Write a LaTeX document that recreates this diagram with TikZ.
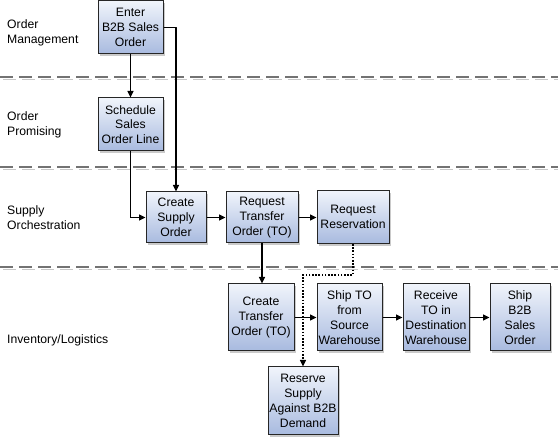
\documentclass[tikz,border=0pt]{standalone}
\usepackage{fontspec}
\setmainfont{Liberation Sans}
\usepackage{xcolor}
\usetikzlibrary{arrows.meta,shadows}
\definecolor{boxtop}{HTML}{F0F4FB}
\definecolor{boxbot}{HTML}{A8BADF}
\tikzset{
	procbox/.style={
			draw=black!85, line width=1pt, top color=boxtop, bottom color=boxbot,
			align=center, inner sep=1pt, minimum height=53pt,
			drop shadow={shadow xshift=2.2pt, shadow yshift=-2.2pt, fill=black!35, opacity=0.6}
		},
	lanelabel/.style={align=left, anchor=west, inner sep=0pt},
	flow/.style={line width=1.1pt, -{Triangle[length=6.5pt,width=6pt]}},
	reserveflow/.style={line width=1.2pt, dash pattern=on 1.6pt off 1.6pt, -{Triangle[length=6.5pt,width=6pt]}},
	lanesep/.style={line width=1.3pt, dash pattern=on 13pt off 6pt}
}
\begin{document}
\begin{tikzpicture}[x=1pt,y=-1pt,font=\fontsize{12.2}{14.8}\selectfont]
		\useasboundingbox (0,0) rectangle (558,438);

		% Lane separators
		\foreach \ly in {77,167,267} {
				\draw[lanesep, black!22] (3,\ly+2.5) -- (561,\ly+2.5);
				\draw[lanesep, black!55] (0,\ly) -- (558,\ly);
			}

		% Lane labels
		\node[lanelabel] (omlabel) at (7,33) {Order\\Management};
		\node[lanelabel] (oplabel) at (7,125) {Order\\Promising};
		\node[lanelabel] (solabel) at (7,218) {Supply\\Orchestration};
		\node[lanelabel] (illabel) at (7,340) {Inventory/Logistics};

		% Steps
		\node[procbox, minimum width=65pt] (enter) at (130.5,27.5) {Enter\\B2B Sales\\Order};
		\node[procbox, minimum width=65pt] (sched) at (130.5,124.5) {Schedule\\Sales\\Order Line};
		\node[procbox, minimum width=60pt, minimum height=51pt] (csupply) at (176,217.5) {Create\\Supply\\Order};
		\node[procbox, minimum width=72pt, minimum height=51pt] (reqto) at (262,217.5) {Request\\Transfer\\Order (TO)};
		\node[procbox, minimum width=72pt] (reqres) at (353,217) {Request\\Reservation};
		\node[procbox, minimum width=66pt, minimum height=67pt] (cto) at (261,317.5) {Create\\Transfer\\Order (TO)};
		\node[procbox, minimum width=65pt, minimum height=67pt] (shipto) at (349.5,317.5) {Ship TO\\from\\Source\\Warehouse};
		\node[procbox, minimum width=66pt, minimum height=67pt] (recv) at (436,317.5) {Receive\\TO in\\Destination\\Warehouse};
		\node[procbox, minimum width=60pt, minimum height=67pt] (shipb2b) at (520,317.5) {Ship\\B2B\\Sales\\Order};
		\node[procbox, minimum width=70pt, minimum height=68pt] (reserve) at (303,401) {Reserve\\Supply\\Against B2B\\Demand};

		% Flow
		\draw[flow] (enter) -- (sched);
		\draw[flow] (enter.east) -- ++(13,0) -| (csupply.north);
		\draw[flow] (sched.south) |- (csupply.west);
		\draw[flow] (csupply) -- (reqto);
		\draw[flow] (reqto.east) -- (reqto.east -| reqres.west);
		\draw[flow] (reqto.south) -- (reqto.south |- cto.north);
		\draw[flow] (cto) -- (shipto);
		\draw[flow] (shipto) -- (recv);
		\draw[flow] (recv) -- (shipb2b);

		% Reservation
		\draw[reserveflow] (reqres.south) -- ++(0,31) -| (reserve.north);
	\end{tikzpicture}
\end{document}
